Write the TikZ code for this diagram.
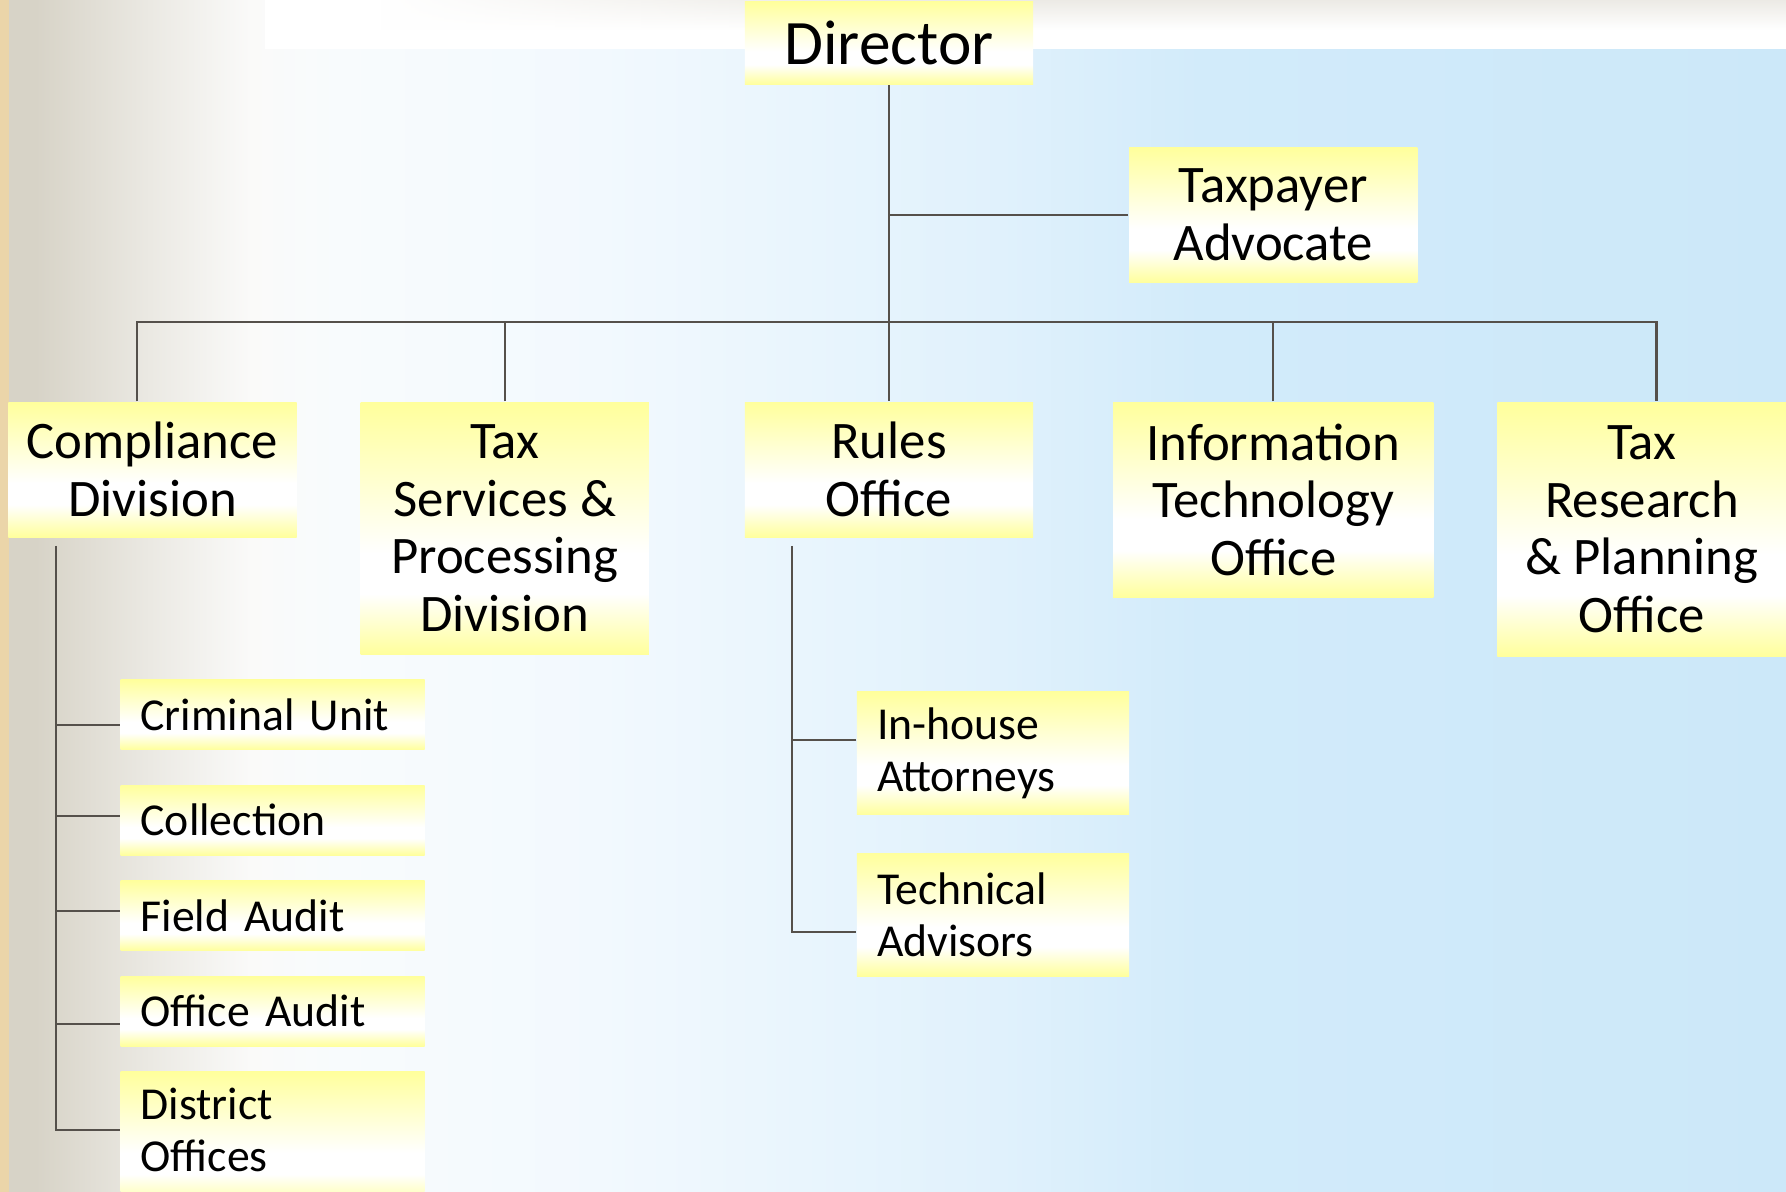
\documentclass[tikz,border=0pt]{standalone}
\usepackage{fontspec}
\setmainfont{Carlito}
\usetikzlibrary{positioning,fadings}

\definecolor{boxyellow}{HTML}{FFFF9C}
\definecolor{wire}{HTML}{55504B}
\definecolor{sand}{HTML}{EBD5A9}
\definecolor{stone}{HTML}{D7D3C7}
\definecolor{ash}{HTML}{EBE9E3}
\definecolor{chalk}{HTML}{FAFAF9}
\definecolor{frost}{HTML}{F8FBFD}
\definecolor{mist}{HTML}{F2F9FE}
\definecolor{pale}{HTML}{E0F1FC}
\definecolor{azure}{HTML}{D2EBFA}
\definecolor{sky}{HTML}{CCE8F9}
\definecolor{haze}{HTML}{ECEAE5}

\pgfdeclareverticalshading{boxglow}{100bp}{color(0bp)=(boxyellow); color(25bp)=(boxyellow); color(37bp)=(white); color(45bp)=(white); color(75bp)=(boxyellow); color(100bp)=(boxyellow)}
\pgfdeclarehorizontalshading{pagewash}{100bp}{color(0bp)=(stone); color(26bp)=(stone); color(29.2bp)=(ash); color(32bp)=(chalk); color(34.5bp)=(frost); color(41.8bp)=(mist); color(53bp)=(pale); color(58.6bp)=(azure); color(75bp)=(sky); color(100bp)=(sky)}
\tikzfading[name=haze in, left color=transparent!100, right color=transparent!0]

\tikzset{
	box/.style={shade, shading=boxglow, inner sep=0pt, align=center},
	head/.style={box, minimum width=2.88cm, minimum height=0.83cm, font=\fontsize{18}{20}\selectfont},
	unit/.style={box, minimum width=2.88cm, minimum height=1.35cm, font=\fontsize{15}{16.4}\selectfont},
	leaf/.style={shade, shading=boxglow, inner xsep=2mm, inner ysep=0pt, text width=2.64cm, align=left, minimum height=0.7cm, font=\fontsize{13}{14.8}\selectfont},
	link/.style={draw=wire, line width=0.6pt},
}

\begin{document}
\begin{tikzpicture}[x=0.01cm, y=-0.01cm]
	  % Background
	  \path[use as bounding box] (0,0) rectangle (1786,1192);
	  \clip (0,0) rectangle (1786,1192);
	  \shade[shading=pagewash] (0,0) rectangle (1786,1192);
	  \fill[sand] (0,0) rectangle (9,1192);
	  \fill[white] (265,0) rectangle (1786,49);
	  \shade[top color=haze, bottom color=white, path fading=haze in] (380,0) rectangle (900,30);
	  \shade[top color=haze, bottom color=white] (899,0) rectangle (1786,30);

	  % Define nodes
	  \node[head] (dir) at (889,43) {Director};
	  \node[unit, below=0.615cm of dir, xshift=3.84cm] (tpa) {Taxpayer\\Advocate};
	  \node[unit, below=3.16cm of dir, xshift=-7.36cm] (cmp) {Compliance\\Division};
	  \node[unit, below=3.16cm of dir, xshift=-3.84cm, minimum height=2.52cm] (tsp) {Tax\\Services \&\\Processing\\Division};
	  \node[unit, below=3.16cm of dir] (rul) {Rules\\Office};
	  \node[unit, below=3.16cm of dir, xshift=3.84cm, minimum width=3.2cm, minimum height=1.95cm] (ito) {Information\\Technology\\Office};
	  \node[unit, below=3.16cm of dir, xshift=7.525cm, minimum width=2.89cm, minimum height=2.54cm] (trp) {Tax\\Research\\\& Planning\\Office};

	  % Compliance units
	  \node[leaf, below right=1.41cm and 1.12cm of cmp.south west] (crm) {Criminal Unit};
	  \node[leaf, below=0.34cm of crm] (col) {Collection};
	  \node[leaf, below=0.24cm of col] (fld) {Field Audit};
	  \node[leaf, below=0.24cm of fld] (ofa) {Office Audit};
	  \node[leaf, below=0.24cm of ofa, minimum height=1.35cm] (dst) {District\\Offices\vspace{0.19cm}};

	  % Rules units
	  \node[leaf, text width=2.32cm, minimum height=1.23cm, below right=1.53cm and 1.12cm of rul.south west] (iha) {In-house\\Attorneys};
	  \node[leaf, text width=2.32cm, minimum height=1.23cm, below=0.37cm of iha] (tca) {Technical\\Advisors};

	  % Connect the nodes
	  \coordinate[below=2.365cm of dir] (bus);
	  \coordinate[below right=0.08cm and 0.48cm of cmp.south west] (cmpsp);
	  \coordinate[below right=0.08cm and 0.48cm of rul.south west] (rulsp);
	  \draw[link] (dir) -- (rul);
	  \draw[link] (tpa) -- (tpa.west -| dir);
	  \draw[link] ([xshift=-1.6mm]cmp.north) |- (bus) -| ([xshift=1.45mm]trp.north);
	  \foreach \n in {tsp,ito}
	    \draw[link] (\n) -- (\n |- bus);
	  \draw[link] (cmpsp) |- ([yshift=0.95mm]dst.west);
	  \foreach \n/\s in {crm/-1.05mm, col/0.45mm, fld/0.45mm, ofa/-1.3mm}
	    \draw[link] ([yshift=\s]\n.west) -| (cmpsp);
	  \draw[link] (rulsp) |- ([yshift=-1.75mm]tca.west);
	  \draw[link] ([yshift=1.35mm]iha.west) -| (rulsp);
	\end{tikzpicture}
\end{document}
